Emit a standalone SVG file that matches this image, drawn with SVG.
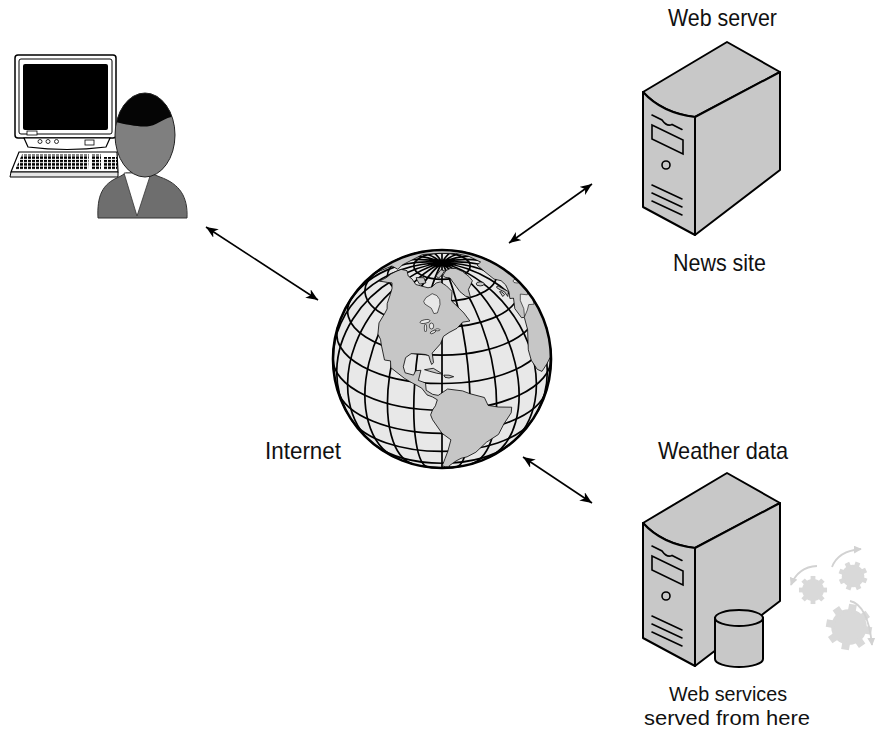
<svg xmlns="http://www.w3.org/2000/svg" xmlns:xlink="http://www.w3.org/1999/xlink" width="875" height="731" viewBox="0 0 875 731">
  <style>
    .label { font-family: "Liberation Sans", Arial, sans-serif; font-size: 24px; fill: #111; }
    .label-sm { font-family: "Liberation Sans", Arial, sans-serif; font-size: 20.5px; fill: #111; }
    .face { fill: #c8c8c8; stroke: #000; stroke-width: 2; stroke-linejoin: round; }
    .detail { fill: none; stroke: #000; stroke-width: 1.6; stroke-linecap: round; }
    .conn { fill: none; stroke: #000; stroke-width: 1.6; }
    .grid { fill: none; stroke: #000; stroke-width: 1.7; }
    .land { fill: #c6c6c6; stroke: #000; stroke-width: 0.8; stroke-linejoin: round; }
    .water { fill: #e8e8e8; stroke: #000; stroke-width: 0.6; }
    .gear { fill: #d9d9d9; }
    .spin { fill: none; stroke: #d2d2d2; stroke-width: 1.8; }
  </style>
  <defs>
    <marker id="ah" viewBox="0 0 12 10" refX="12" refY="5" markerWidth="12" markerHeight="10" markerUnits="userSpaceOnUse" orient="auto-start-reverse">
      <path d="M0,0 L12,5 L0,10 L3.5,5 Z" fill="#000"/>
    </marker>
    <marker id="ah-light" viewBox="0 0 10 10" refX="9" refY="5" markerWidth="8" markerHeight="8" markerUnits="userSpaceOnUse" orient="auto">
      <path d="M0,0 L10,5 L0,10 Z" fill="#d2d2d2"/>
    </marker>
    <pattern id="keys" width="4" height="3.4" patternUnits="userSpaceOnUse">
      <rect width="3" height="2.4" fill="#000"/>
    </pattern>
    <clipPath id="globe-clip">
      <circle cx="442" cy="359" r="109"/>
    </clipPath>
    <clipPath id="head-clip">
      <ellipse cx="145" cy="135" rx="30" ry="42"/>
    </clipPath>
    <!-- tower case, drawn at the position of the upper server -->
    <g id="tower">
      <path class="face" d="M643,92 L727,42 L780,72 L695,117 Q662,113 643,92 Z"/>
      <path class="face" d="M695,117 L780,72 L780,170 L695,235 Z"/>
      <path class="face" d="M643,92 Q662,113 695,117 L695,235 L643,207 Z"/>
      <path class="detail" d="M652,115 L662,120 Q667,127 672,124.5 L682,129.5"/>
      <path class="detail" d="M652,125 L683,140 L683,154 L652,139 Z"/>
      <circle class="detail" cx="666" cy="165" r="4"/>
      <path class="detail" d="M652,185 L682,199 M652,193 L682,207 M652,201 L682,215"/>
    </g>
    <!-- cog wheel, outer radius 13.5 -->
    <g id="cog">
      <circle r="10.5"/>
      <rect x="-2.3" y="-13.5" width="4.6" height="5"/>
      <rect x="-2.3" y="-13.5" width="4.6" height="5" transform="rotate(45)"/>
      <rect x="-2.3" y="-13.5" width="4.6" height="5" transform="rotate(90)"/>
      <rect x="-2.3" y="-13.5" width="4.6" height="5" transform="rotate(135)"/>
      <rect x="-2.3" y="-13.5" width="4.6" height="5" transform="rotate(180)"/>
      <rect x="-2.3" y="-13.5" width="4.6" height="5" transform="rotate(225)"/>
      <rect x="-2.3" y="-13.5" width="4.6" height="5" transform="rotate(270)"/>
      <rect x="-2.3" y="-13.5" width="4.6" height="5" transform="rotate(315)"/>
    </g>
  </defs>

  <rect width="875" height="731" fill="#fff"/>

  <!-- connectors -->
  <g id="connectors">
    <line class="conn" x1="206" y1="227" x2="318" y2="300" marker-start="url(#ah)" marker-end="url(#ah)"/>
    <line class="conn" x1="509" y1="243" x2="592" y2="184" marker-start="url(#ah)" marker-end="url(#ah)"/>
    <line class="conn" x1="523" y1="457" x2="592" y2="503" marker-start="url(#ah)" marker-end="url(#ah)"/>
  </g>

  <!-- user at a workstation -->
  <g id="user">
    <rect x="15" y="55" width="101" height="83" rx="3" fill="#fff" stroke="#000" stroke-width="1.5"/>
    <rect x="19" y="59" width="93" height="75" rx="2" fill="none" stroke="#000" stroke-width="1"/>
    <rect x="23" y="64" width="85" height="66" rx="2" fill="#000"/>
    <rect x="27" y="131" width="10" height="4" fill="#fff" stroke="#000" stroke-width="0.8"/>
    <path d="M24,138 L110,138 L106,147 Q67,152 28,147 Z" fill="#fff" stroke="#000" stroke-width="1.2"/>
    <circle cx="40" cy="141.5" r="2" fill="#fff" stroke="#000" stroke-width="0.8"/>
    <circle cx="48" cy="141.5" r="2" fill="#fff" stroke="#000" stroke-width="0.8"/>
    <circle cx="56.5" cy="141.5" r="2" fill="#fff" stroke="#000" stroke-width="0.8"/>
    <rect x="85" y="140" width="9" height="5" fill="#fff" stroke="#000" stroke-width="0.8"/>
    <path d="M19,152 L117,152 L118,172 L11,172 Z" fill="#fff" stroke="#000" stroke-width="1.2"/>
    <path d="M11,172 L118,172 L118,177 L10,177 Z" fill="#e6e6e6" stroke="#000" stroke-width="1"/>
    <path d="M22,154.5 L89,154.5 L88,170 L15,170 Z" fill="url(#keys)"/>
    <path d="M92,154.5 L101,154.5 L101,170 L91,170 Z" fill="url(#keys)"/>
    <path d="M104,157 L117,157 L117,170 L104,170 Z" fill="url(#keys)"/>
    <path d="M98,218 C97,196 102,184 119,177 L126,173 L150,173 L160,177 C180,184 188,197 187,218 Z" fill="#6e6e6e" stroke="#333" stroke-width="1"/>
    <path d="M124,173 L137,216 L151,173 Z" fill="#fff" stroke="#333" stroke-width="0.8"/>
    <ellipse cx="145" cy="135" rx="30" ry="42" fill="#7f7f7f"/>
    <path d="M110,121 C125,124 140,128 150,126 C160,124 166,115 181,116 L181,85 L110,85 Z" fill="#050505" clip-path="url(#head-clip)"/>
    <ellipse cx="145" cy="135" rx="30" ry="42" fill="none" stroke="#222" stroke-width="1"/>
  </g>

  <!-- internet globe -->
  <g id="internet">
    <circle cx="442" cy="359" r="109" fill="#e8e8e8"/>
    <g class="grid">
      <ellipse cx="442" cy="266.04" rx="28.21" ry="13.25"/>
      <path d="M420.76,252.09 A54.5,25.59 0 1 0 463.24,252.09
               M376.73,271.7 A77.07,36.19 0 1 0 507.27,271.7
               M352.16,297.27 A94.4,44.32 0 1 0 531.84,297.27
               M337.79,327.05 A105.28,49.43 0 1 0 546.21,327.05
               M333,359 A109,51.18 0 0 0 551,359
               M337.79,390.95 A105.28,49.43 0 0 0 546.21,390.95
               M352.16,420.73 A94.4,44.32 0 0 0 531.84,420.73
               M376.73,446.3 A77.07,36.19 0 0 0 507.27,446.3
               M420.76,465.91 A54.5,25.59 0 0 0 463.24,465.91"/>
      <path d="M442,250 L442,468
               M442,262.77 A109,24.91 82.83 0 1 455.6,467.15
               M442,262.77 A109,48.12 74.83 0 1 470.52,464.2
               M442,262.77 A109,68.05 64.85 0 1 488.32,457.66
               M442,262.77 A109,83.35 50.89 0 1 510.77,443.56
               M442,262.77 A109,92.96 29.71 0 1 536.66,413.02
               M442,262.77 A109,96.24 0 0 1 551,359
               M442,262.77 A109,92.96 -29.71 0 1 536.66,304.98
               M442,262.77 A109,83.35 -50.89 0 1 510.77,274.44
               M442,262.77 A109,68.05 -64.85 0 1 488.32,260.34
               M442,262.77 A109,48.12 -74.83 0 1 470.52,253.8
               M442,262.77 A109,24.91 -82.83 0 1 455.6,250.85
               M442,262.77 A109,24.91 -82.83 0 0 428.4,467.15
               M442,262.77 A109,48.12 -74.83 0 0 413.48,464.2
               M442,262.77 A109,68.05 -64.85 0 0 395.68,457.66
               M442,262.77 A109,83.35 -50.89 0 0 373.23,443.56
               M442,262.77 A109,92.96 -29.71 0 0 347.34,413.02
               M442,262.77 A109,96.24 0 0 0 333,359
               M442,262.77 A109,92.96 29.71 0 0 347.34,304.98
               M442,262.77 A109,83.35 50.89 0 0 373.23,274.44
               M442,262.77 A109,68.05 64.85 0 0 395.68,260.34
               M442,262.77 A109,48.12 74.83 0 0 413.48,253.8
               M442,262.77 A109,24.91 82.83 0 0 428.4,250.85"/>
    </g>
    <g clip-path="url(#globe-clip)">
      <!-- the Americas -->
      <path class="land" d="M401.2,269.4 L407,270.6 L408.2,276 L412.2,279.1 L415.8,284.5 L428,287.8 L431.9,286.9 L436.2,283 L440.3,281.9 L446.5,285.9 L452,291.4 L451.5,300.9 L457.8,306.9 L463.9,313 L469.9,321 L462.5,322.2 L457,328.3 L449.1,332.5 L443.5,336.3 L440.5,343.8 L432.2,353.1 L433.5,362.6 L431.7,364.5 L430.2,360.6 L428.8,355.7 L425.6,354.5 L419.2,353.9 L411.1,353.7 L405.6,357.6 L403.3,366.8 L405.1,372.8 L413.5,375.1 L415.7,370.7 L420.9,370.3 L418.4,380.4 L425.5,382.9 L426.2,390.3 L432.6,394.3 L438.2,395.4 L447.6,389 L462.5,390.9 L469.9,393.7 L484.4,397.5 L488.1,405.4 L498.1,407 L511.7,407.2 L511.2,412.8 L503.9,423.9 L498.5,434.4 L486.5,442.2 L475.9,452.2 L467.1,456.8 L461.1,458.3 L456.1,460.9 L452.5,463.4 L449.2,465.8 L449.6,467 L445.4,466.9 L442,465.6 L443.3,463.2 L445,458.6 L447.8,451.4 L450.9,439.8 L442,433.3 L432.6,419.8 L430.6,414.9 L432.5,410 L435.4,405.8 L437.3,399.8 L432.6,397 L427,394.9 L421.7,388.1 L411.1,382.3 L404.5,378.4 L390.8,367.7 L390.5,360.9 L384.5,360 L381.3,344.8 L380.5,339.4 L377.9,334.1 L379,322.9 L384.9,313.1 L387.1,308.9 L387.2,303.6 L390.3,294.4 L392,288.5 L392,282.9 L387.3,282.4 L383.1,281.7 L379.5,281.2 L386,277.9 L390.8,274 L396,271.4 Z"/>
      <path class="water" d="M423.7,301.4 L425.9,297.7 L432.2,293.7 L436.9,295.6 L439.7,299.6 L440,304.5 L437.4,312.9 L433.9,313.6 L431.3,308.2 L424.9,304.1 Z"/>
      <ellipse class="water" cx="425" cy="321.5" rx="5" ry="1.8" transform="rotate(-10 425 321.5)"/>
      <ellipse class="water" cx="425.5" cy="328" rx="1.2" ry="4"/>
      <ellipse class="water" cx="431.5" cy="326" rx="2.2" ry="3"/>
      <ellipse class="water" cx="433" cy="332" rx="3" ry="1.2" transform="rotate(-25 433 332)"/>
      <ellipse class="water" cx="437.5" cy="329.8" rx="2.5" ry="1"/>
      <!-- arctic islands, Greenland -->
      <path class="land" d="M435.7,276.3 L440.8,269.7 L444.6,270.7 L442,274.9 L438.8,277.9 Z"/>
      <path class="land" d="M416.2,277.6 L423.9,277.7 L425.9,282.9 L419.6,284.2 L416.9,279.8 Z"/>
      <path class="land" d="M442.8,275.5 L445.9,270.6 L450.5,268.3 L456,268.5 L462.6,271.5 L469.3,276.8 L472.4,280.7 L470.5,285.3 L468.4,289.5 L470.5,297.5 L465.6,296.2 L460,291.7 L456,286.3 L450,278.1 L445.1,277.3 Z"/>
      <!-- Caribbean -->
      <path class="land" d="M424.5,369.7 L433.3,368.3 L442.9,374.2 L436.7,373.2 L429.7,371.3 Z"/>
      <path class="land" d="M443.8,375.1 L449,375.2 L453.7,376.7 L449,378 L445,377.3 Z"/>
      <!-- Eurasia and Africa -->
      <path class="land" d="M550.4,370.1 L550.1,357.6 L546.9,363.8 L542,371.4 L537.3,369.4 L531.3,360.3 L528.3,349.8 L527.6,329.6 L524.3,317.3 L521.5,317.7 L514.8,308.6 L513.5,298.2 L509.9,298.5 L508.8,291.5 L505.6,284.8 L501.1,280.7 L494,279.1 L482.8,270.1 L477,265.1 L480.6,262 L468.4,256.2 L455.5,253.4 L439.7,253.3 L422.7,254.5 L402.6,264.8 L397.8,269.3 L392,266 L375,273 A109,109 0 0 1 550.4,370.1 Z"/>
      <path class="water" d="M524.5,316.8 L523.8,308.7 L520.3,300.5 L520.3,294.1 L527.3,294.8 L527.9,291.9 L532.3,298.1 L534.1,304.2 L528.7,304.6 L527.4,309.9 Z"/>
      <ellipse class="water" cx="517" cy="281" rx="4" ry="2"/>
      <path class="land" d="M497,286 L498.8,286.4 L505.4,290.1 L508.4,291.5 L507.8,296.5 L504.4,291.7 L500.8,290.2 L496.7,287.7 Z"/>
      <path class="land" d="M499.6,291.6 L501.8,291.9 L504.7,294.5 L502.8,296.5 Z"/>
      <ellipse class="land" cx="480.2" cy="283.9" rx="4" ry="2"/>
    </g>
    <circle cx="442" cy="359" r="109" fill="none" stroke="#000" stroke-width="2.6"/>
    <text class="label" x="265" y="459" textLength="76" lengthAdjust="spacingAndGlyphs">Internet</text>
  </g>

  <!-- news site web server -->
  <g id="web-server">
    <text class="label" x="668" y="26" textLength="109" lengthAdjust="spacingAndGlyphs">Web server</text>
    <use xlink:href="#tower"/>
    <text class="label" x="673" y="271" textLength="93" lengthAdjust="spacingAndGlyphs">News site</text>
  </g>

  <!-- weather data server with web services -->
  <g id="weather-server">
    <text class="label" x="658" y="459" textLength="130" lengthAdjust="spacingAndGlyphs">Weather data</text>
    <use xlink:href="#tower" transform="translate(0,431)"/>
    <path d="M715,618 L715,659 A24,8 0 0 0 763,659 L763,618 Z" fill="#c8c8c8" stroke="#000" stroke-width="2"/>
    <ellipse cx="739" cy="618" rx="24" ry="8" fill="#c8c8c8" stroke="#000" stroke-width="2"/>
    <text class="label-sm" x="669" y="701" textLength="118" lengthAdjust="spacingAndGlyphs">Web services</text>
    <text class="label-sm" x="644" y="725" textLength="166" lengthAdjust="spacingAndGlyphs">served from here</text>
  </g>

  <!-- running services -->
  <g id="services">
    <use xlink:href="#cog" class="gear" transform="translate(813,590) scale(1.04)"/>
    <use xlink:href="#cog" class="gear" transform="translate(853,576) scale(1.07) rotate(20)"/>
    <use xlink:href="#cog" class="gear" transform="translate(849,627) scale(1.7) rotate(10)"/>
    <path class="spin" d="M832,567 Q838,551 861,549" marker-end="url(#ah-light)"/>
    <path class="spin" d="M817,566 Q798,567 791,585" marker-end="url(#ah-light)"/>
    <path class="spin" d="M850,601 Q868,605 872,645" marker-end="url(#ah-light)"/>
  </g>
</svg>
